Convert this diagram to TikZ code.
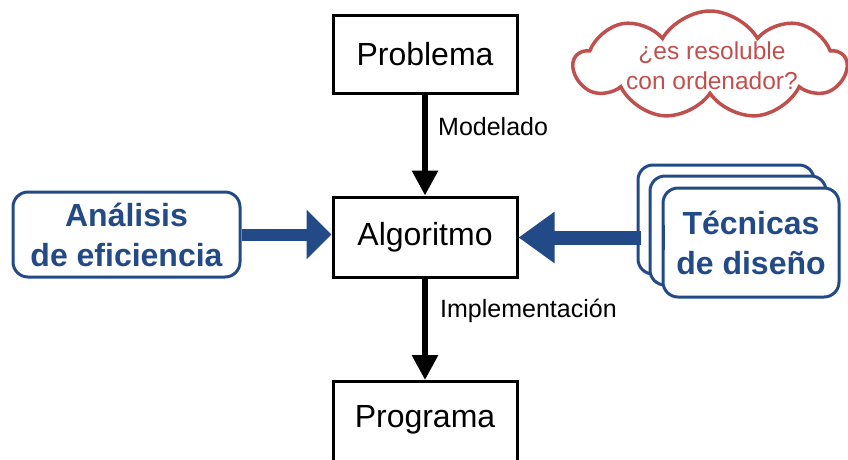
\documentclass[tikz,border=0pt]{standalone}
\usepackage{fontspec}
\setmainfont{Liberation Sans}
\usetikzlibrary{arrows.meta,shapes.symbols}
\definecolor{dblue}{RGB}{33,74,134}
\definecolor{cred}{RGB}{192,80,77}
\tikzset{
  blackbox/.style={draw=black,line width=3pt,fill=white,minimum width=184pt,inner sep=0pt,font=\fontsize{32}{38}\selectfont},
  bluebox/.style={draw=dblue,line width=3pt,fill=white,rounded corners=15pt,inner sep=0pt,text=dblue,align=center,font=\fontsize{32}{40}\selectfont\bfseries},
  stackbox/.style={draw=dblue,line width=3pt,fill=white,rounded corners=15pt},
  blackarrow/.style={line width=6pt,-{Triangle[length=25pt,width=25pt]}},
  lbl/.style={font=\fontsize{25}{30}\selectfont,inner sep=0pt}
}
\begin{document}
\begin{tikzpicture}[x=1pt,y=-1pt]
\useasboundingbox (0,0) rectangle (848,459);
% boxes
\node[blackbox,minimum height=78pt] (prob) at (425,54) {Problema};
\node[blackbox,minimum height=80pt] (alg) at (425,237) {Algoritmo};
\node[blackbox,minimum height=84pt,anchor=north] (prog) at (425,380) {};
\node[font=\fontsize{32}{38}\selectfont,anchor=base] (progt) at (425,427) {Programa};
% labels
\node[lbl,anchor=base west] (mod) at (438,135) {Modelado};
\node[lbl,anchor=base west] (impl) at (440,317) {Implementación};
% black arrows
\draw[blackarrow] (prob.south) -- (alg.north);
\draw[blackarrow] (alg.south) -- (prog.north);
% analisis
\node[bluebox,minimum width=227pt,minimum height=85pt] (anal) at (126.5,234.5) {Análisis\\de eficiencia};
\draw[draw=dblue,line width=12pt,-{Triangle[length=25pt,width=48pt]}] (anal.east) -- (alg.west |- anal.east);
% tecnicas stack
\draw[stackbox] (638,165) rectangle (814,274);
\draw[stackbox] (650,176) rectangle (826,285);
\node[bluebox,minimum width=176pt,minimum height=109pt] (tec) at (751,242.5) {Técnicas\\de diseño};
\coordinate (tecin) at (641,237.5);
\draw[draw=dblue,line width=14pt,-{Triangle[length=36pt,width=49pt]}] (tecin) -- (alg.east |- tecin);
\draw[draw=dblue,line width=3pt] (663,225) -- (663,250);
% cloud
\node[cloud,draw=cred,line width=3.5pt,cloud puffs=9,cloud puff arc=120,aspect=2.5,minimum width=272pt,minimum height=108pt,inner sep=0pt] (cl) at (710,65) {};
\node[text=cred,align=center,font=\fontsize{24.5}{30}\selectfont] (clt) at (712,66) {¿es resoluble\\con ordenador?};
\end{tikzpicture}
\end{document}
